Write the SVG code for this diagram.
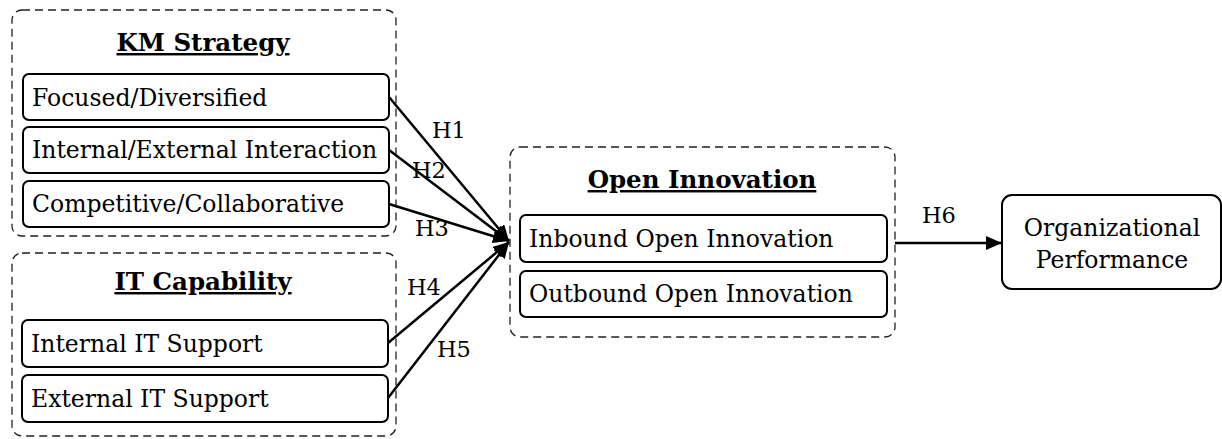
<svg xmlns="http://www.w3.org/2000/svg" width="1222" height="439" viewBox="0 0 1222 439">
<style>
text{font-family:"DejaVu Serif","Liberation Serif",serif;fill:#000}
.grp{fill:none;stroke:#222;stroke-width:1.3;stroke-dasharray:8 5}
.box{fill:#fff;stroke:#000;stroke-width:2}
.lbl{font-size:23.5px}
.ttl{font-size:24.5px;font-weight:bold;text-decoration:underline;text-anchor:middle}
.h{font-size:22.5px}
.cn{stroke:#000;stroke-width:2.5;fill:none}
</style>
<defs>
<marker id="ah2" viewBox="0 0 16 14" refX="16" refY="7" markerWidth="16" markerHeight="14" orient="auto" markerUnits="userSpaceOnUse">
<path d="M0,0 L16,7 L0,14 z" fill="#000"/>
</marker>
</defs>
<g id="km-strategy">
<rect class="grp" x="12" y="10" width="384" height="226" rx="10"/>
<text class="ttl" x="203" y="51">KM Strategy</text>
</g>
<g id="focused"><rect class="box" x="23" y="74" width="366" height="46" rx="6"/><text class="lbl" x="32" y="106">Focused/Diversified</text></g>
<g id="interaction"><rect class="box" x="23" y="127" width="366" height="46" rx="6"/><text class="lbl" x="32" y="158">Internal/External Interaction</text></g>
<g id="competitive"><rect class="box" x="23" y="181" width="366" height="46" rx="6"/><text class="lbl" x="32" y="212">Competitive/Collaborative</text></g>
<g id="it-capability">
<rect class="grp" x="12" y="253" width="384" height="183" rx="10"/>
<text class="ttl" x="203" y="290">IT Capability</text>
</g>
<g id="internal-it"><rect class="box" x="22" y="320" width="366" height="47" rx="6"/><text class="lbl" x="31" y="352">Internal IT Support</text></g>
<g id="external-it"><rect class="box" x="22" y="375" width="366" height="47" rx="6"/><text class="lbl" x="31" y="407">External IT Support</text></g>
<g id="open-innovation">
<rect class="grp" x="510" y="147" width="385" height="190" rx="10"/>
<text class="ttl" x="702" y="188">Open Innovation</text>
</g>
<g id="inbound"><rect class="box" x="520" y="215" width="367" height="47" rx="6"/><text class="lbl" x="529" y="247">Inbound Open Innovation</text></g>
<g id="outbound"><rect class="box" x="520" y="271" width="367" height="46" rx="6"/><text class="lbl" x="529" y="302">Outbound Open Innovation</text></g>
<g id="org-performance"><rect class="box" x="1002" y="195" width="219" height="94" rx="10"/>
<text class="lbl" x="1112" y="236" text-anchor="middle">Organizational</text>
<text class="lbl" x="1112" y="268" text-anchor="middle">Performance</text></g>
<g id="connectors">
<line class="cn" x1="389" y1="97" x2="509" y2="241" marker-end="url(#ah2)"/>
<line class="cn" x1="389" y1="150" x2="509" y2="241" marker-end="url(#ah2)"/>
<line class="cn" x1="389" y1="204" x2="509" y2="241" marker-end="url(#ah2)"/>
<line class="cn" x1="388" y1="343" x2="509" y2="242" marker-end="url(#ah2)"/>
<line class="cn" x1="388" y1="398" x2="509" y2="242" marker-end="url(#ah2)"/>
<line class="cn" x1="895" y1="243" x2="1002" y2="243" marker-end="url(#ah2)"/>
<text class="h" x="432" y="138">H1</text>
<text class="h" x="412" y="178">H2</text>
<text class="h" x="415" y="236">H3</text>
<text class="h" x="407" y="295">H4</text>
<text class="h" x="437" y="357">H5</text>
<text class="h" x="922" y="223">H6</text>
</g>
</svg>
